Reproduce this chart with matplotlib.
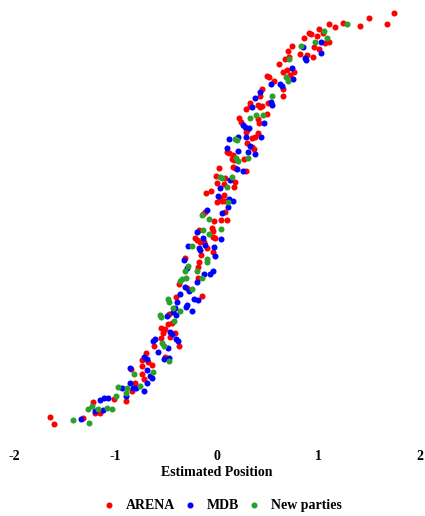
import matplotlib
matplotlib.use("Agg")
import matplotlib.pyplot as plt

# Police proche de Times, en gras
plt.rcParams['font.family'] = ['Liberation Serif', 'DejaVu Serif']
plt.rcParams['font.weight'] = 'bold'

# Positions estimées (x) et rang (y) par parti
arena_pos = [1.74, 1.50, 1.67, 1.41, 1.24, 1.16, 1.10, 1.00, 1.04, 0.91, 0.93, 0.99, 0.86,
             1.06, 1.10, 0.96, 0.74, 1.00, 0.70, 0.82, 0.89, 0.95, 0.71, 0.67,
             0.61, 0.65, 0.69, 0.76, 0.72, 0.49, 0.51, 0.56, 0.65, 0.44, 0.42, 0.65,
             0.33, 0.33, 0.40, 0.42, 0.44, 0.50, 0.29,
             0.22, 0.24, 0.40, 0.41, 0.49, 0.30, 0.29, 0.40, 0.37, 0.34, 0.30, 0.34,
             0.36, 0.10, 0.12, 0.16, 0.15, 0.27, 0.17,
             0.16, 0.18, 0.29, 0.02, -0.01, 0.08, 0.00, 0.07, 0.18, 0.17, -0.06,
             -0.11, 0.07, 0.03, 0.05, 0.08, 0.00,
             -0.12, -0.14, 0.08, -0.03, 0.04, 0.10, -0.18, -0.05, -0.04, -0.04,
             -0.02, -0.22, -0.20, -0.17, -0.13, -0.10, -0.04, -0.16, -0.32,
             -0.18, -0.19, -0.19, -0.37, -0.30, -0.15, -0.40,
             -0.47, -0.44, -0.48, -0.55, -0.51, -0.53, -0.41, -0.46, -0.55, -0.62,
             -0.37, -0.70, -0.51,
             -0.74, -0.68, -0.64, -0.74, -0.85, -0.74, -0.72, -0.81, -0.84, -1.01,
             -0.90, -1.22, -1.20, -1.15, -1.65, -1.61, -1.32]
arena_rank = [417, 412, 406, 404, 407, 403, 406, 401, 397, 397, 396, 394, 392,
              387, 388, 383, 384, 381, 379, 376, 375, 373, 373, 371,
              366, 358, 360, 358, 355, 354, 353, 349, 341, 341, 334, 334,
              327, 324, 325, 323, 324, 327, 321,
              312, 308, 311, 307, 316, 300, 298, 297, 293, 292, 287, 283,
              281, 278, 277, 275, 271, 271, 270,
              263, 262, 259, 262, 254, 252, 247, 246, 248, 243, 239,
              237, 235, 232, 229, 229, 228,
              218, 216, 218, 209, 210, 210, 200, 202, 199, 193,
              192, 192, 190, 188, 188, 182, 178, 175, 172,
              168, 163, 152, 146, 142, 134, 133,
              116, 107, 106, 102, 101, 97, 97, 93, 92, 84,
              84, 77, 73,
              70, 68, 65, 64, 61, 56, 51, 47, 39, 31,
              29, 28, 17, 17, 13, 6, 12]

mdb_pos = [1.02, 0.85, 1.02, 0.87,
           0.74, 0.88, 0.75, 0.53, 0.62, 0.64, 0.42, 0.37, 0.53, 0.54, 0.34,
           0.26, 0.28, 0.32, 0.46, 0.43, 0.29, 0.21, 0.12, 0.33, 0.31, 0.37, 0.21, 0.10,
           0.20, 0.26, 0.13, 0.03, 0.01, 0.12, 0.16, 0.11, -0.10,
           0.05, -0.20, 0.04, -0.14, -0.12, -0.29, -0.18, -0.17, -0.03, -0.02, -0.33,
           -0.30, -0.04, -0.07, -0.13, -0.20, -0.32, -0.28, -0.36, -0.23, -0.19, -0.39,
           -0.30, -0.41,
           -0.43, -0.31, -0.25, -0.49, -0.40, -0.46, -0.44, -0.40, -0.38, -0.61, -0.63,
           -0.48, -0.58, -0.72, -0.47,
           -0.69, -0.52, -0.86, -0.69, -0.66, -0.64, -0.69, -0.86, -0.83, -0.80, -0.94,
           -0.72, -0.90, -1.07, -1.11, -1.15, -1.20, -1.12, -1.34]
mdb_rank = [388, 383, 377, 372,
            362, 370, 351, 346, 346, 344, 338, 332, 328, 325, 323,
            305, 303, 302, 307, 293, 293, 293, 291, 284, 278, 276, 279, 282,
            261, 259, 250, 242, 234, 231, 229, 223, 220,
            217, 198, 191, 192, 185, 184, 182, 180, 183, 174, 170,
            162, 159, 156, 156, 148, 143, 139, 136, 131, 130, 128,
            125, 122,
            118, 123, 119, 114, 115, 98, 96, 91, 89, 91, 89,
            82, 78, 73, 72,
            71, 71, 62, 60, 54, 52, 47, 47, 42, 42, 42,
            39, 34, 32, 32, 30, 19, 20, 11]

new_pos = [1.28, 1.05, 1.08, 0.97, 0.83, 0.71, 0.68, 0.70, 0.54,
           0.33, 0.38, 0.45, 0.18, 0.20, 0.19, 0.31, 0.21,
           0.03, 0.05, 0.15, 0.10, 0.11,
           -0.15, -0.08, -0.14, 0.04, -0.08, -0.25, -0.10,
           -0.10, -0.29, -0.32, -0.20, -0.15, -0.31, -0.34, -0.36, -0.25,
           -0.48, -0.47, -0.43, -0.36, -0.56, -0.55, -0.42, -0.54, -0.52,
           -0.47, -0.63, -0.82, -0.76, -0.89, -0.98, -0.90, -1.00,
           -1.23, -1.27, -1.08, -1.03, -1.17, -1.42, -1.26]
new_rank = [406, 399, 392, 388, 384, 371, 353, 349, 334,
            312, 315, 315, 291, 290, 272, 272, 269,
            253, 252, 253, 243, 228,
            215, 211, 200, 201, 196, 184, 171,
            168, 164, 159, 159, 152, 152, 151, 149, 141,
            131, 128, 122, 119, 115, 113, 109, 87, 84,
            69, 58, 56, 44, 42, 43, 37, 34,
            24, 21, 22, 21, 21, 10, 7]

xticks = [-2, -1, 0, 1, 2]

fig = plt.figure(figsize=(4.25, 5.16), dpi=100)
ax = fig.add_axes([14 / 425, 76 / 516, 406 / 425, 440 / 516])

ax.scatter(arena_pos, arena_rank, s=19, color='#ff0000', linewidths=0, label='ARENA')
ax.scatter(mdb_pos, mdb_rank, s=19, color='#0000ff', linewidths=0, label='MDB')
ax.scatter(new_pos, new_rank, s=19, color='#2ca02c', linewidths=0, label='New parties')

ax.set_xlim(-2, 2)
ax.set_ylim(-10, 430)
ax.set_xticks(xticks)
ax.set_xticklabels([str(t) for t in xticks])
ax.set_yticks([])
ax.tick_params(axis='x', length=0, pad=7, labelsize=10)
for s in ax.spines.values():
    s.set_visible(False)
ax.set_xlabel("Estimated Position", fontsize=10, fontweight='bold', labelpad=2)

fig.legend(loc='center', bbox_to_anchor=(0.522, 0.021), ncol=3, frameon=False,
           fontsize=10, handletextpad=0.7, columnspacing=0.6, markerscale=1.0,
           handlelength=1.0)

plt.savefig("out.png", dpi=100)
